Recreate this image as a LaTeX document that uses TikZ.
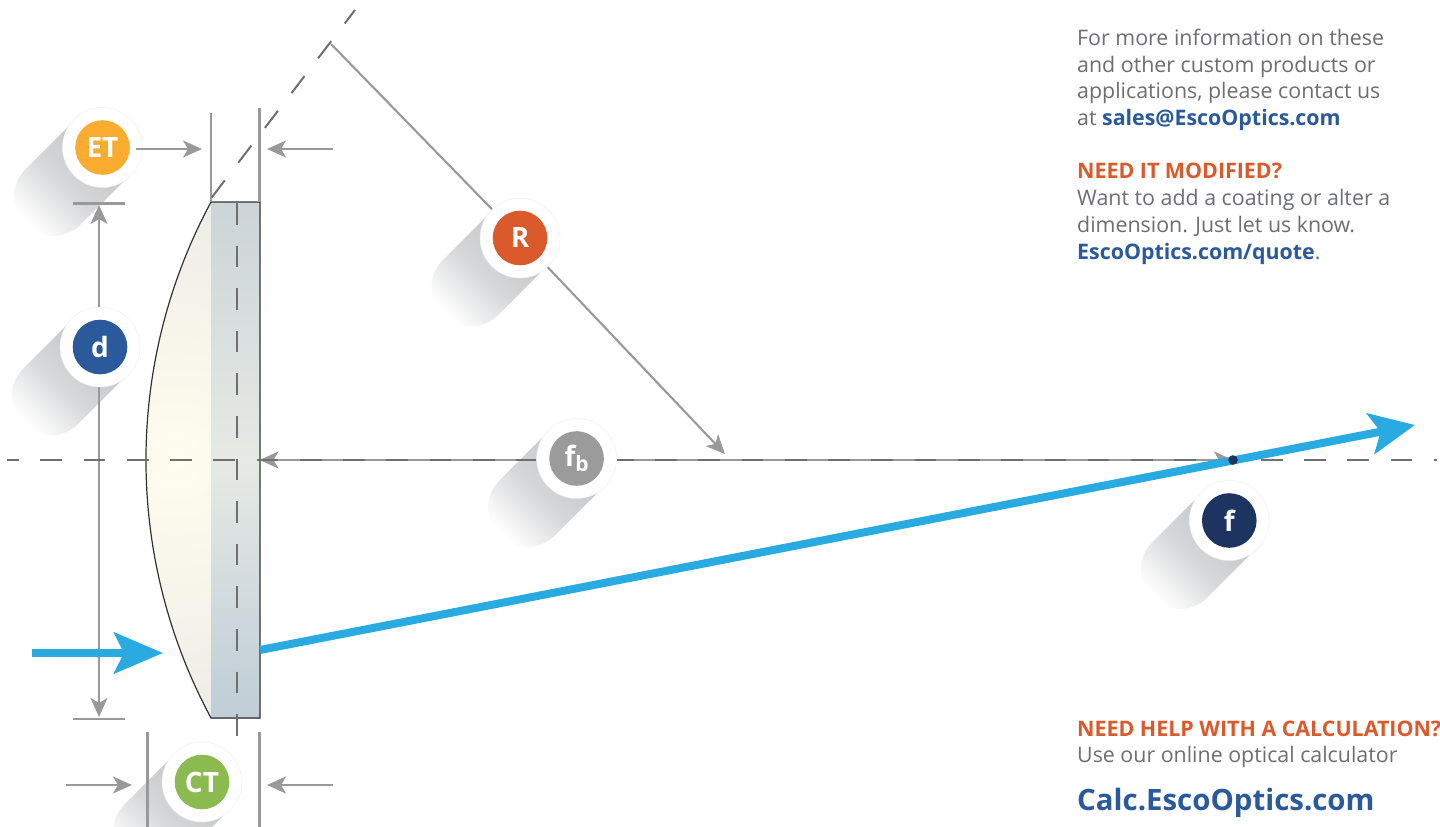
\documentclass[tikz,border=0pt]{standalone}
\usepackage{fontspec}
\setmainfont{Open Sans}
\usetikzlibrary{arrows.meta}
\definecolor{gline}{HTML}{999999}
\definecolor{dashc}{HTML}{6F6F6F}
\definecolor{blueray}{HTML}{29ABE2}
\definecolor{textgray}{HTML}{6D6E71}
\definecolor{hotorange}{HTML}{DB5A2B}
\definecolor{linkblue}{HTML}{2A5A9B}
\definecolor{navy}{HTML}{1D3461}
\definecolor{cET}{HTML}{F9AC2F}
\definecolor{cCT}{HTML}{8BBB50}
\definecolor{cFB}{HTML}{9B9B9B}
\definecolor{shA}{HTML}{C4C6C8}
\definecolor{shB}{HTML}{D6D7D9}
\definecolor{lensIn}{HTML}{FFFDEE}
\definecolor{lensOut}{HTML}{DDE0E1}
\definecolor{rectT}{HTML}{CBD4D7}
\definecolor{rectM}{HTML}{E6EAE5}
\definecolor{rectB}{HTML}{BFCDD6}
\definecolor{lensLine}{HTML}{333333}
\newcommand\longshadow[2]{%
  \begin{scope}[transform canvas={shift={(#1,#2)},rotate=225}]
    \clip (0pt,-39pt) -- (70pt,-39pt) arc[start angle=-90,end angle=90,radius=39pt] -- (0pt,39pt) -- cycle;
    \shade[left color=shA, right color=white, middle color=shB] (0pt,-40pt) rectangle (106pt,40pt);
  \end{scope}}
\tikzset{
  badge/.style={circle,minimum size=80pt,inner sep=0pt,fill=white,draw=black!7,line width=.4pt,
    text=white,font=\fontsize{28}{28}\selectfont\bfseries,
    path picture={\fill[#1] (path picture bounding box.center) circle (27.3pt);}},
  dim/.style={draw=gline,line width=2.1pt},
  dimarrow/.style={dim,-{Stealth[length=19pt,width=17pt,inset=5pt]}},
  axisdash/.style={draw=dashc,line width=2pt},
  ray/.style={draw=blueray,line width=8pt},
  body/.style={anchor=base west,inner sep=0pt,text=textgray,font=\fontsize{21.37}{24}\selectfont},
  hot/.style={body,text=hotorange,font=\fontsize{21.4}{24}\selectfont\bfseries},
}
\begin{document}
\begin{tikzpicture}[x=1pt,y=-1pt]
\useasboundingbox[fill=white] (0,0) rectangle (1440,827);
% long shadows
\longshadow{102.5}{147.5}
\longshadow{100}{347}
\longshadow{520}{238}
\longshadow{576.6}{458.5}
\longshadow{1229.3}{520.5}
\longshadow{202}{782}
% lens
\begin{scope}
  \clip (211,202) .. controls (124.3,363) and (124.3,557) .. (211,718) -- cycle;
  \shade[inner color=lensIn, outer color=lensOut] (176,460) circle (480);
\end{scope}
\shade[top color=rectT, bottom color=rectB, middle color=rectM] (211,202) rectangle (260,718);
\draw[line width=1.2pt,draw=lensLine] (211,718) .. controls (124.3,557) and (124.3,363) .. (211,202) -- (260,202) -- (260,718) -- cycle;
% coordinates
\coordinate (etL) at (211,113);\coordinate (etLb) at (211,202);
\coordinate (etR) at (259.5,108);\coordinate (etRb) at (259.5,202);
\coordinate (etA) at (136,149);\coordinate (etAe) at (202,149);
\coordinate (etB) at (333,149);\coordinate (etBe) at (267,149);
\coordinate (ctL) at (147.5,732);\coordinate (ctLb) at (147.5,827);
\coordinate (ctR) at (259.5,732);\coordinate (ctRb) at (259.5,827);
\coordinate (ctA) at (66,785);\coordinate (ctAe) at (132,785);
\coordinate (ctB) at (333,785);\coordinate (ctBe) at (267,785);
\coordinate (dT1) at (73,203.5);\coordinate (dT2) at (125,203.5);
\coordinate (dB1) at (73,719);\coordinate (dB2) at (125,719);
\coordinate (dTip) at (99,205);\coordinate (dBip) at (99,717);
\coordinate (rFar) at (331,44);\coordinate (rTip) at (725,454);
\coordinate (fbL) at (259.5,460);\coordinate (fbR) at (1233,460);
\coordinate (axL) at (7,460);\coordinate (axR) at (1437,460);
\coordinate (vaT) at (237,203);\coordinate (vaB) at (237,736);
\coordinate (dgA) at (211.7,197.5);\coordinate (dgB) at (355,10);
\coordinate (rayA) at (260,650);\coordinate (rayB) at (1415,425);
\coordinate (inA) at (32,653);\coordinate (inB) at (163,653);
% badges
\node[badge=cET] (et) at (102.5,147.5) {ET};
\node[badge=linkblue] (dd) at (100,347) {d};
\node[badge=hotorange] (rr) at (520,238) {R};
\node[badge=cFB] (fb) at (576.6,458.5) {f\raisebox{-5pt}{\fontsize{21}{21}\selectfont b}};
\node[badge=navy] (ff) at (1229.3,520.5) {f};
\node[badge=cCT] (ct) at (202,782) {CT};
% dimension lines
\draw[dim] (etL) -- (etLb);
\draw[dim] (etR) -- (etRb);
\draw[dimarrow] (etA) -- (etAe);
\draw[dimarrow] (etB) -- (etBe);
\draw[dim] (ctL) -- (ctLb);
\draw[dim] (ctR) -- (ctRb);
\draw[dimarrow] (ctA) -- (ctAe);
\draw[dimarrow] (ctB) -- (ctBe);
\draw[dim] (dT1) -- (dT2);
\draw[dim] (dB1) -- (dB2);
\draw[dimarrow] (dd.north -| dTip) -- (dTip);
\draw[dimarrow] (dd.south -| dBip) -- (dBip);
\draw[dim] (rr) -- (rFar);
\draw[dimarrow] (rr) -- (rTip);
% axis
\draw[dimarrow] (fb.west |- fbL) -- (fbL);
\draw[dimarrow] (fb.east |- fbR) -- (fbR);
\draw[axisdash,dash pattern=on 21.7pt off 21.57pt,dash phase=10pt] (axL) -- (fb.west |- axL);
\draw[axisdash,dash pattern=on 21.7pt off 21.57pt,dash phase=5pt] (fb.east |- axR) -- (axR);
\draw[axisdash,dash pattern=on 21.5pt off 21.1pt] (vaT) -- (vaB);
\draw[axisdash,dash pattern=on 21.5pt off 22.3pt] (dgA) -- (dgB);
% rays
\draw[ray,-{Stealth[length=45pt,width=41pt,inset=10pt]}] (rayA) -- (rayB);
\draw[ray,-{Stealth[length=49pt,width=41pt,inset=10pt]}] (inA) -- (inB);
\fill[navy] (fbR) circle (4.8);
% text
\node[body] (t1) at (1077,45) {For more information on these};
\node[body] (t2) at (1077,72) {and other custom products or};
\node[body] (t3) at (1077,98.5) {applications, please contact us};
\node[body] (t4) at (1077,125) {at \textbf{\textcolor{linkblue}{sales@EscoOptics.com}}};
\node[hot] (t5) at (1077,178) {NEED IT MODIFIED?};
\node[body] (t6) at (1077,205) {Want to add a coating or alter a};
\node[body] (t7) at (1077,232) {dimension. Just let us know.};
\node[body] (t8) at (1077,259) {\textbf{\textcolor{linkblue}{EscoOptics.com/quote}}.};
\node[hot] (t9) at (1077,736) {NEED HELP WITH A CALCULATION?};
\node[body] (t10) at (1077,762) {Use our online optical calculator};
\node[body,text=linkblue,font=\fontsize{29.4}{32}\selectfont\bfseries] (t11) at (1077,810) {Calc.EscoOptics.com};
\end{tikzpicture}
\end{document}
